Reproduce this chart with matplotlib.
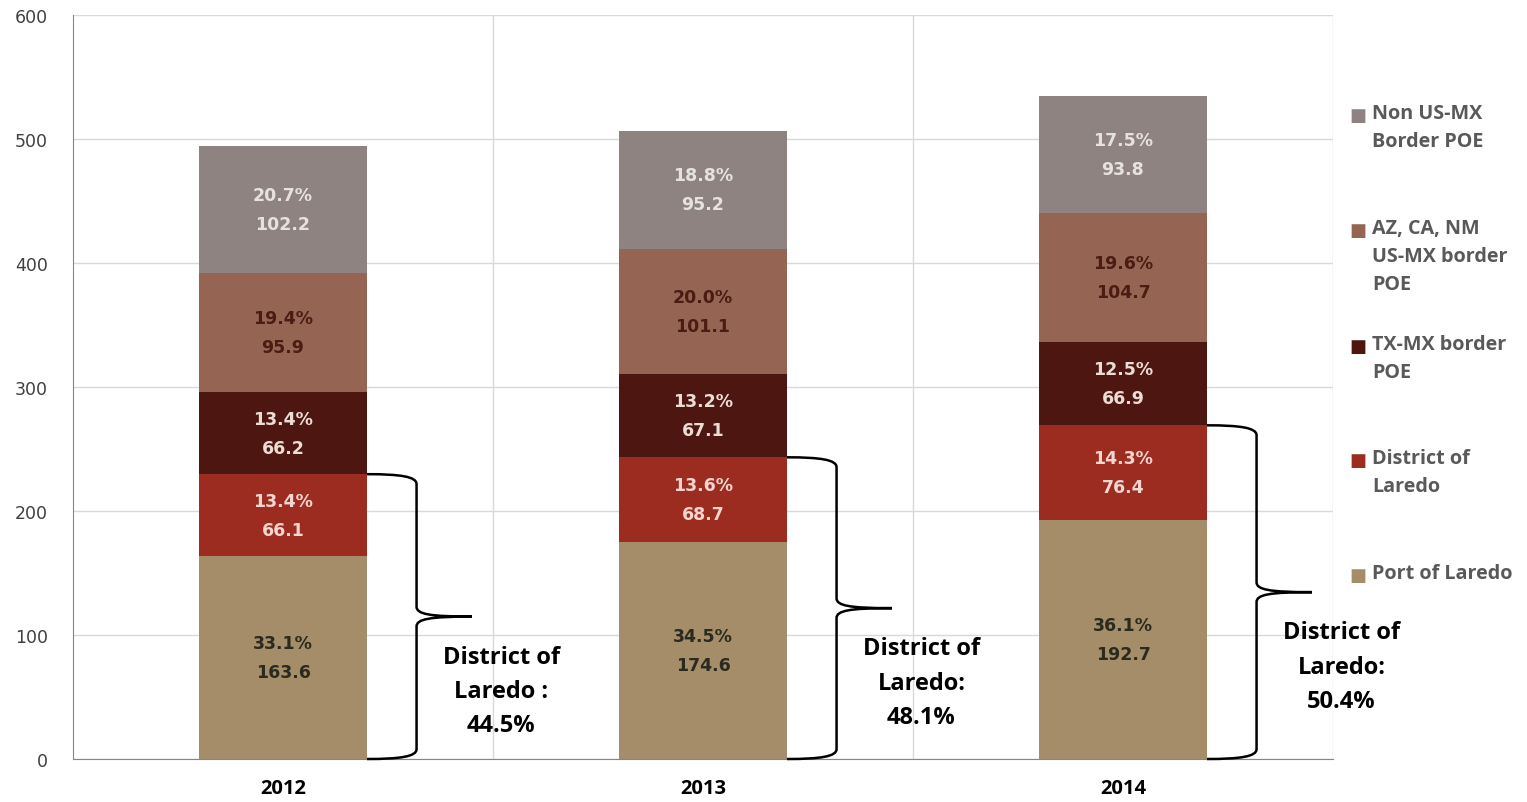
import matplotlib.pyplot as plt
import numpy as np
from matplotlib.path import Path
from matplotlib.patches import PathPatch

years = ["2012", "2013", "2014"]
series = ["Port of Laredo", "District of Laredo", "TX-MX border POE",
          "AZ, CA, NM US-MX border POE", "Non US-MX Border POE"]
legend_labels = ["Port of Laredo", "District of\nLaredo", "TX-MX border\nPOE",
                 "AZ, CA, NM\nUS-MX border\nPOE", "Non US-MX\nBorder POE"]

port = [163.6, 174.6, 192.7]
district = [66.1, 68.7, 76.4]
tx_mx = [66.2, 67.1, 66.9]
az_ca_nm = [95.9, 101.1, 104.7]
non_border = [102.2, 95.2, 93.8]

port_pct = [33.1, 34.5, 36.1]
district_pct = [13.4, 13.6, 14.3]
tx_mx_pct = [13.4, 13.2, 12.5]
az_ca_nm_pct = [19.4, 20.0, 19.6]
non_border_pct = [20.7, 18.8, 17.5]

laredo_notes = ["District of\nLaredo :\n44.5%", "District of\nLaredo:\n48.1%",
                "District of\nLaredo:\n50.4%"]

values = [port, district, tx_mx, az_ca_nm, non_border]
pcts = [port_pct, district_pct, tx_mx_pct, az_ca_nm_pct, non_border_pct]
colors = ["#a58d6a", "#9c2c1f", "#4d1611", "#966452", "#8f8382"]
label_colors = ["#2a2a1e", "#f4d5cf", "#ebddd5", "#4a1c14", "#e6e2e0"]

fig = plt.figure(figsize=(15.27, 8.03), dpi=100)
ax = fig.add_axes([73 / 1527, 43 / 803, 1260 / 1527, 744 / 803])

x = np.arange(len(years))
bottom = np.zeros(len(years))
for vals, pc, col, lcol in zip(values, pcts, colors, label_colors):
    ax.bar(x, vals, 0.4, bottom=bottom, color=col, zorder=2)
    for i in range(len(years)):
        ax.text(x[i], bottom[i] + vals[i] / 2, f"{pc[i]:.1f}%\n{vals[i]:.1f}",
                ha="center", va="center", color=lcol, fontsize=12.5,
                fontweight="bold", linespacing=1.78, zorder=3)
    bottom += np.array(vals)

# braces around port + district
for i in range(len(years)):
    top = port[i] + district[i]
    mid = top / 2
    x0, xv, xt = x[i] + 0.2, x[i] + 0.318, x[i] + 0.45
    d = 8
    verts = [(x0, top), (x0 + 0.08, top), (xv, top - 2), (xv, top - d),
             (xv, mid + d),
             (xv, mid + 2), (xv + 0.03, mid), (xt, mid),
             (xv + 0.03, mid), (xv, mid - 2), (xv, mid - d),
             (xv, d),
             (xv, 2), (x0 + 0.08, 0), (x0, 0)]
    codes = [Path.MOVETO, Path.CURVE4, Path.CURVE4, Path.CURVE4,
             Path.LINETO,
             Path.CURVE4, Path.CURVE4, Path.CURVE4,
             Path.CURVE4, Path.CURVE4, Path.CURVE4,
             Path.LINETO,
             Path.CURVE4, Path.CURVE4, Path.CURVE4]
    ax.add_patch(PathPatch(Path(verts, codes), fill=False, lw=1.8,
                           ec="black", zorder=4, clip_on=False))
    ax.text(xt + 0.07, mid - 60, laredo_notes[i], ha="center", va="center",
            fontsize=17, fontweight="bold", family="Open Sans",
            linespacing=1.58, zorder=4)

ax.set_xlim(-0.5, 2.5)
ax.set_ylim(0, 600)
ax.set_yticks(range(0, 601, 100))
ax.set_xticks(x)
ax.set_xticklabels(years, fontsize=14.5, fontweight="bold", family="Open Sans")
ax.set_xticks([0.5, 1.5, 2.5], minor=True)
ax.tick_params(axis="x", which="both", length=0, pad=14)
ax.tick_params(axis="y", length=0, pad=18, labelsize=12.5, labelcolor="#404040")
ax.grid(axis="y", color="#d9d9d9", lw=1, zorder=0)
ax.grid(axis="x", which="minor", color="#d9d9d9", lw=1, zorder=0)
for s in ["top", "right"]:
    ax.spines[s].set_visible(False)
for s in ["left", "bottom"]:
    ax.spines[s].set_color("#868686")

# legend, drawn by hand so the marker sits on the first line
leg_y = [576, 461, 347, 231, 116]
for lab, col, py in zip(legend_labels, colors, leg_y):
    fig.text(1358 / 1527, 1 - py / 803, "■", color=col, fontsize=13,
             ha="center", va="center")
    fig.text(1372 / 1527, 1 - (py - 12) / 803, lab, color="#595959",
             fontsize=14.2, fontweight="bold", family="Open Sans", ha="left",
             va="top", linespacing=1.55)

fig.savefig("out.png", dpi=100)
